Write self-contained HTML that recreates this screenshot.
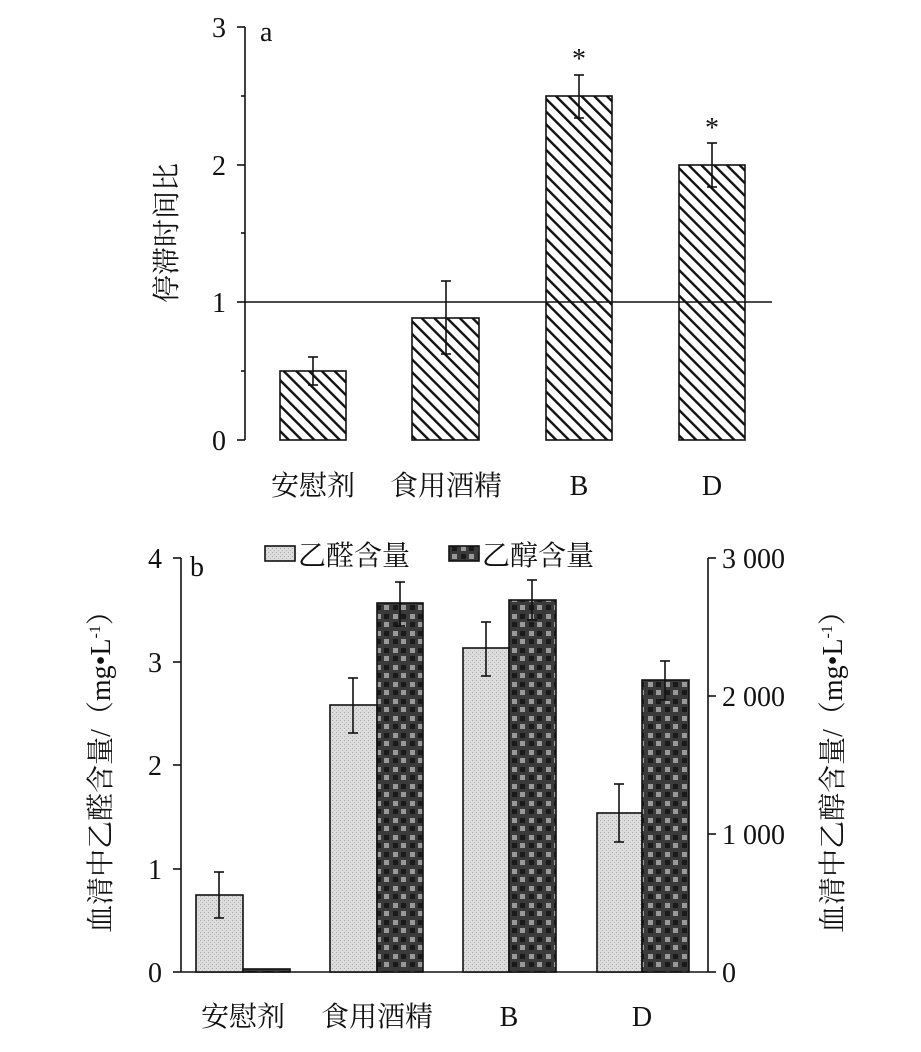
<!DOCTYPE html>
<html><head><meta charset="utf-8"><style>body{margin:0;background:#fff}svg{display:block}</style></head><body>
<svg width="921" height="1052" xmlns="http://www.w3.org/2000/svg" font-family="Liberation Serif, Noto Serif CJK SC, serif">
<defs>
<pattern id="hatch" width="9" height="9" patternUnits="userSpaceOnUse" patternTransform="rotate(-45)">
<rect width="9" height="9" fill="#fff"/><rect x="0" y="0" width="2.4" height="9" fill="#111"/></pattern>
<pattern id="dots" width="4" height="4" patternUnits="userSpaceOnUse">
<rect width="4" height="4" fill="#dcdcdc"/><rect x="0" y="0" width="1" height="1" fill="#aaa"/><rect x="2" y="2" width="1" height="1" fill="#bbb"/></pattern>
<pattern id="check" width="17" height="17" patternUnits="userSpaceOnUse">
<rect width="17" height="17" fill="#3a3a3a"/><rect x="2" y="2" width="5" height="5" fill="#999"/><rect x="10" y="2" width="5" height="5" fill="#1a1a1a"/><rect x="2" y="10" width="5" height="5" fill="#1a1a1a"/><rect x="10" y="10" width="5" height="5" fill="#999"/></pattern>
</defs>
<g stroke="#111" stroke-width="1.6" fill="none">
<line x1="245" y1="27" x2="245" y2="440"/>
<line x1="237" y1="27" x2="245" y2="27"/><line x1="237" y1="165" x2="245" y2="165"/><line x1="237" y1="302" x2="245" y2="302"/><line x1="237" y1="440" x2="245" y2="440"/><line x1="241" y1="96" x2="245" y2="96"/><line x1="241" y1="233" x2="245" y2="233"/><line x1="241" y1="371" x2="245" y2="371"/>
</g>
<g stroke="#111" stroke-width="1.6" fill="url(#hatch)">
<rect x="280" y="371" width="66" height="69"/><rect x="412" y="318" width="67" height="122"/><rect x="546" y="96" width="66" height="344"/><rect x="679" y="165" width="66" height="275"/>
</g>
<line x1="245" y1="302" x2="772" y2="302" stroke="#111" stroke-width="1.6"/>
<g stroke="#111" stroke-width="1.6">
<line x1="313" y1="357" x2="313" y2="385"/><line x1="308" y1="357" x2="318" y2="357"/><line x1="308" y1="385" x2="318" y2="385"/>
<line x1="446" y1="281" x2="446" y2="354"/><line x1="441" y1="281" x2="451" y2="281"/><line x1="441" y1="354" x2="451" y2="354"/>
<line x1="579" y1="75" x2="579" y2="118"/><line x1="574" y1="75" x2="584" y2="75"/><line x1="574" y1="118" x2="584" y2="118"/>
<line x1="712" y1="143" x2="712" y2="187"/><line x1="707" y1="143" x2="717" y2="143"/><line x1="707" y1="187" x2="717" y2="187"/>
</g>
<g font-size="28" fill="#111">
<text x="579" y="68" text-anchor="middle">*</text><text x="712" y="137" text-anchor="middle">*</text>
<text x="226" y="37" text-anchor="end">3</text><text x="226" y="175" text-anchor="end">2</text><text x="226" y="312" text-anchor="end">1</text><text x="226" y="450" text-anchor="end">0</text>
<text x="260" y="41">a</text>
<text x="313" y="495" text-anchor="middle">安慰剂</text><text x="446" y="495" text-anchor="middle">食用酒精</text><text x="579" y="495" text-anchor="middle">B</text><text x="712" y="495" text-anchor="middle">D</text>
<text transform="translate(176,233) rotate(-90)" text-anchor="middle">停滞时间比</text>
</g>
<g stroke="#111" stroke-width="1.6" fill="none">
<line x1="181" y1="558" x2="181" y2="972"/><line x1="708" y1="558" x2="708" y2="972"/><line x1="181" y1="972" x2="708" y2="972"/>
<line x1="173" y1="558" x2="181" y2="558"/><line x1="173" y1="662" x2="181" y2="662"/><line x1="173" y1="765" x2="181" y2="765"/><line x1="173" y1="869" x2="181" y2="869"/><line x1="173" y1="972" x2="181" y2="972"/>
<line x1="708" y1="558" x2="716" y2="558"/><line x1="708" y1="696" x2="716" y2="696"/><line x1="708" y1="834" x2="716" y2="834"/><line x1="708" y1="972" x2="716" y2="972"/>
</g>
<g stroke="#111" stroke-width="1.6">
<rect x="196" y="895" width="47" height="77" fill="url(#dots)"/><rect x="243" y="969" width="47" height="3" fill="url(#check)"/>
<rect x="330" y="705" width="47" height="267" fill="url(#dots)"/><rect x="377" y="603" width="46" height="369" fill="url(#check)"/>
<rect x="463" y="648" width="46" height="324" fill="url(#dots)"/><rect x="509" y="600" width="47" height="372" fill="url(#check)"/>
<rect x="597" y="813" width="45" height="159" fill="url(#dots)"/><rect x="642" y="680" width="47" height="292" fill="url(#check)"/>
<line x1="219" y1="872" x2="219" y2="918"/><line x1="214" y1="872" x2="224" y2="872"/><line x1="214" y1="918" x2="224" y2="918"/>
<line x1="353" y1="678" x2="353" y2="733"/><line x1="348" y1="678" x2="358" y2="678"/><line x1="348" y1="733" x2="358" y2="733"/>
<line x1="400" y1="582" x2="400" y2="626"/><line x1="395" y1="582" x2="405" y2="582"/><line x1="395" y1="626" x2="405" y2="626"/>
<line x1="486" y1="622" x2="486" y2="676"/><line x1="481" y1="622" x2="491" y2="622"/><line x1="481" y1="676" x2="491" y2="676"/>
<line x1="532" y1="580" x2="532" y2="620"/><line x1="527" y1="580" x2="537" y2="580"/><line x1="527" y1="620" x2="537" y2="620"/>
<line x1="619" y1="784" x2="619" y2="842"/><line x1="614" y1="784" x2="624" y2="784"/><line x1="614" y1="842" x2="624" y2="842"/>
<line x1="665" y1="661" x2="665" y2="700"/><line x1="660" y1="661" x2="670" y2="661"/><line x1="660" y1="700" x2="670" y2="700"/>
<rect x="265" y="546" width="30" height="15" fill="url(#dots)"/><rect x="449" y="546" width="30" height="15" fill="url(#check)"/>
</g>
<g font-size="28" fill="#111">
<text x="298" y="565">乙醛含量</text><text x="482" y="565">乙醇含量</text>
<text x="190" y="576">b</text>
<text x="162" y="568" text-anchor="end">4</text><text x="162" y="672" text-anchor="end">3</text><text x="162" y="775" text-anchor="end">2</text><text x="162" y="879" text-anchor="end">1</text><text x="162" y="982" text-anchor="end">0</text>
<text x="722" y="568">3 000</text><text x="722" y="706">2 000</text><text x="722" y="844">1 000</text><text x="722" y="982">0</text>
<text x="243" y="1026" text-anchor="middle">安慰剂</text><text x="377" y="1026" text-anchor="middle">食用酒精</text><text x="509" y="1026" text-anchor="middle">B</text><text x="642" y="1026" text-anchor="middle">D</text>
<text transform="translate(110,765) rotate(-90)" text-anchor="middle">血清中乙醛含量/（mg•L<tspan font-size="16" dy="-10">-1</tspan><tspan dy="10">）</tspan></text>
<text transform="translate(842,765) rotate(-90)" text-anchor="middle">血清中乙醇含量/（mg•L<tspan font-size="16" dy="-10">-1</tspan><tspan dy="10">）</tspan></text>
</g>
</svg>
</body></html>
